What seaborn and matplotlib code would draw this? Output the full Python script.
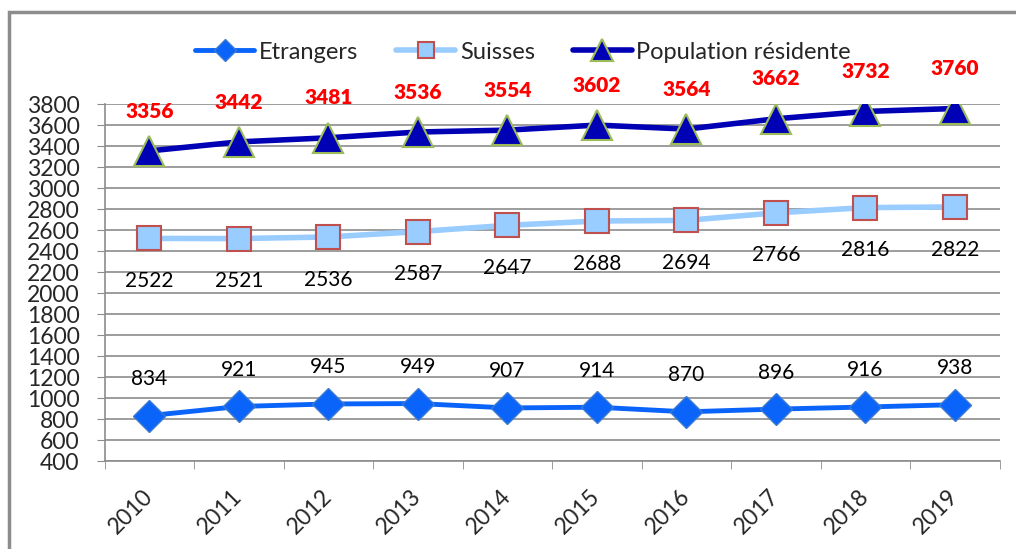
import numpy as np
import pandas as pd
import matplotlib.pyplot as plt
import seaborn as sns
from matplotlib.patches import Rectangle

years = ["2010", "2011", "2012", "2013", "2014", "2015", "2016", "2017", "2018", "2019"]
etrangers = [834, 921, 945, 949, 907, 914, 870, 896, 916, 938]
suisses = [2522, 2521, 2536, 2587, 2647, 2688, 2694, 2766, 2816, 2822]
population = [3356, 3442, 3481, 3536, 3554, 3602, 3564, 3662, 3732, 3760]

sns.set_style("white")
plt.rcParams['font.family'] = ['Lato', 'DejaVu Sans']

fig = plt.figure(figsize=(10.16, 5.49), dpi=100)
ax = fig.add_axes([0.103, 0.160, 0.881, 0.650])
fig.patches.append(Rectangle((0.009, -0.02), 1.0, 1.0 - 0.022 + 0.02, transform=fig.transFigure,
                             fill=False, edgecolor="#8c8c8c", linewidth=2.5))

x = np.arange(len(years))
df = pd.DataFrame({"x": x, "Etrangers": etrangers, "Suisses": suisses, "Population résidente": population})

sns.lineplot(data=df, x="x", y="Etrangers", ax=ax, color="#0a64fa", linewidth=3.5, marker="D",
             markersize=16, markerfacecolor="#0a64fa", markeredgecolor="#3a7ad0", markeredgewidth=1,
             label="Etrangers")
sns.lineplot(data=df, x="x", y="Suisses", ax=ax, color="#99ccff", linewidth=4, marker="s",
             markersize=17, markerfacecolor="#99ccff", markeredgecolor="#c0504d", markeredgewidth=1.5,
             label="Suisses")
sns.lineplot(data=df, x="x", y="Population résidente", ax=ax, color="#0000b4", linewidth=4, marker="^",
             markersize=22, markerfacecolor="#0000b4", markeredgecolor="#9bbb59", markeredgewidth=1.5,
             label="Population résidente")

for i in x:
    ax.annotate(str(etrangers[i]), (i, etrangers[i]), xytext=(0, 22), textcoords="offset points",
                ha="center", fontsize=15, color="black")
    ax.annotate(str(suisses[i]), (i, suisses[i]), xytext=(0, -35), textcoords="offset points",
                ha="center", fontsize=15, color="black")
    ax.annotate(str(population[i]), (i, population[i]), xytext=(0, 24), textcoords="offset points",
                ha="center", fontsize=15, color="red", fontweight="heavy", annotation_clip=False)

ax.set_xlim(-0.5, len(years) - 0.5)
ax.set_ylim(400, 3800)
ax.set_yticks(range(400, 3801, 200))
ax.tick_params(axis="y", labelsize=16.5, length=6, color="#8c8c8c", direction="out", left=True, pad=12)
ax.set_xticks(x)
ax.set_xticklabels(years, rotation=45, fontsize=16.5, ha="right", va="center", rotation_mode="anchor")
ax.set_xticks(np.arange(-0.5, len(years)), minor=True)
ax.tick_params(axis="x", which="major", length=0, pad=23)
ax.tick_params(axis="x", which="minor", length=6, color="#8c8c8c", direction="out", bottom=True)
ax.grid(axis="y", color="#8c8c8c", linewidth=1.2)
ax.set_axisbelow(True)
for s in ["top", "right"]:
    ax.spines[s].set_visible(False)
for s in ["left", "bottom"]:
    ax.spines[s].set_color("#8c8c8c")
    ax.spines[s].set_linewidth(1.2)
ax.set_xlabel("")
ax.set_ylabel("")

ax.legend(loc="center", bbox_to_anchor=(0.515, 0.905), bbox_transform=fig.transFigure, ncol=3,
          frameon=False, fontsize=17, handlelength=2.5, columnspacing=1.6, handletextpad=0.2,
          markerscale=0.7)

fig.savefig("out.png", dpi=100)
